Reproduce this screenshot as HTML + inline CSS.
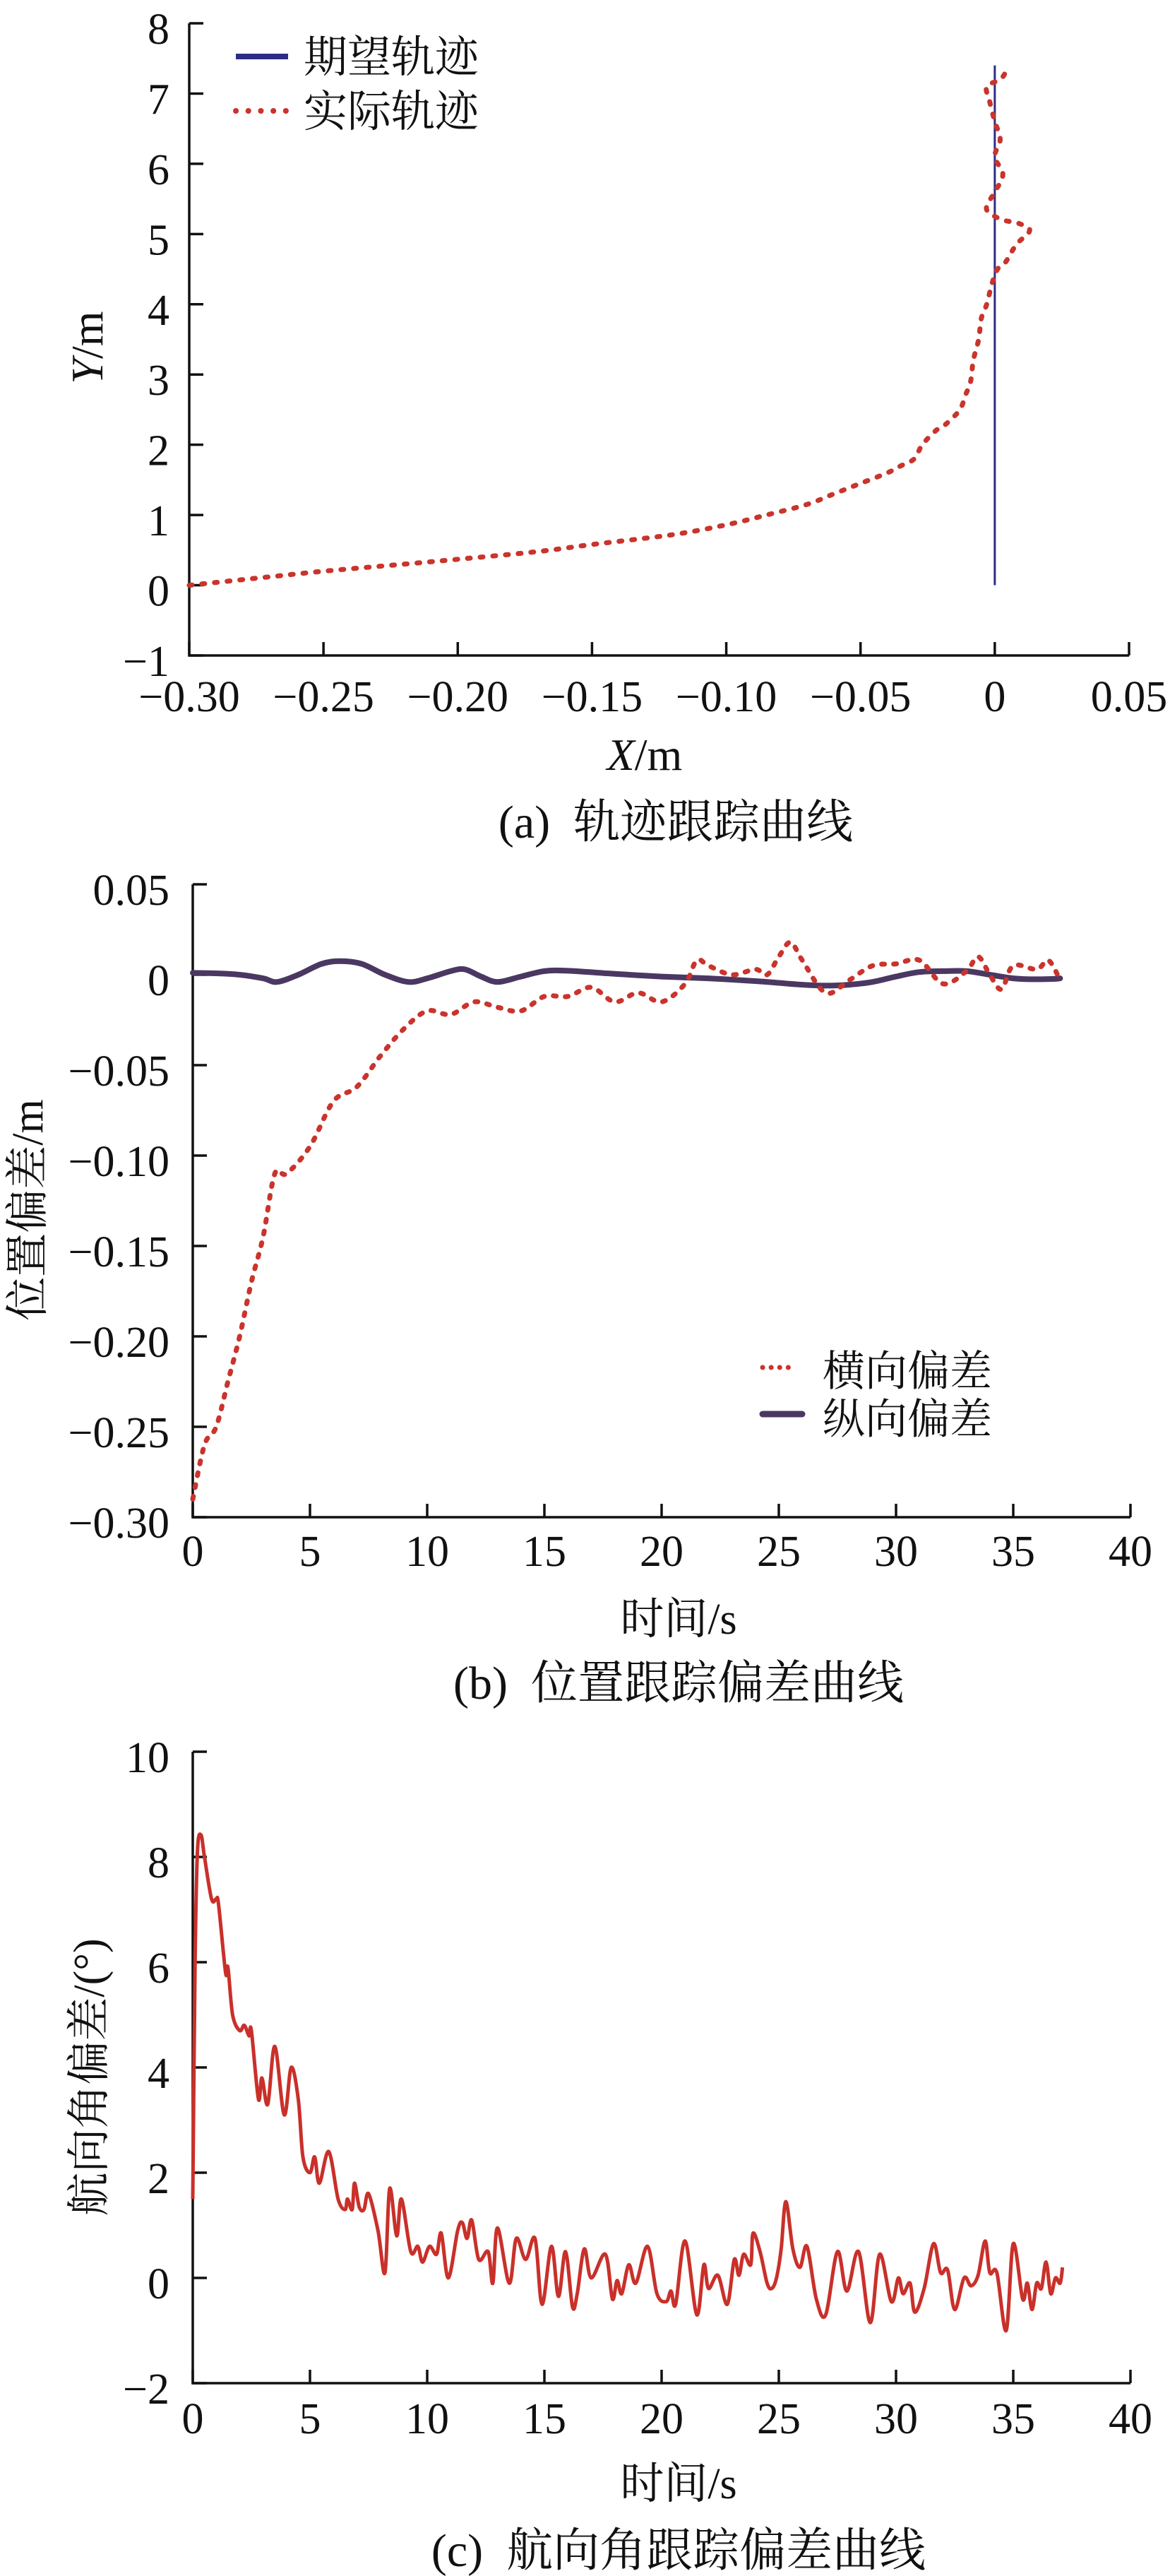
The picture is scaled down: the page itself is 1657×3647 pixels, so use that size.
<!DOCTYPE html>
<html><head><meta charset="utf-8"><style>
html,body{margin:0;padding:0;background:#fff;}
svg{display:block;}
text{font-family:"Liberation Serif","Noto Serif CJK SC",serif;fill:#111;}
</style></head><body>
<svg id="fig" width="1657" height="3647" viewBox="0 0 1657 3647" xmlns="http://www.w3.org/2000/svg"></svg>
<script>
// ---- Panel (a) data: trajectory ----
const aRefX = [0, 0];
const aRefY = [0, 7.4];
const aActX = [-0.30,-0.27,-0.25,-0.22,-0.20,-0.17,-0.15,-0.12,-0.10,-0.085,-0.07,-0.06,-0.05,-0.04,-0.035,-0.03,-0.027,-0.022,-0.018,-0.013,-0.011,-0.009,-0.008,-0.006,-0.005,-0.003,-0.001,0.001,0.004,0.008,0.013,0.009,0.003,-0.002,-0.003,0.0,0.003,0.0,0.002,0.0,-0.002,-0.003,0.002,0.004];
const aActY = [0.0,0.12,0.2,0.3,0.37,0.48,0.58,0.72,0.86,1.0,1.15,1.3,1.45,1.6,1.7,1.8,2.0,2.2,2.3,2.5,2.7,2.9,3.2,3.5,3.8,4.0,4.3,4.5,4.6,4.85,5.05,5.15,5.2,5.3,5.4,5.6,5.85,6.1,6.35,6.6,6.9,7.1,7.2,7.3];
const aXTicks = [-0.30,-0.25,-0.20,-0.15,-0.10,-0.05,0,0.05];
const aXLabels = ["−0.30","−0.25","−0.20","−0.15","−0.10","−0.05","0","0.05"];
const aYTicks = [-1,0,1,2,3,4,5,6,7,8];
const aYLabels = ["−1","0","1","2","3","4","5","6","7","8"];
// ---- Panel (b) data: position error ----
const bLatT = [0,0.5,1,1.5,2,2.5,3,3.5,4,5,6,7,8,9,10,11,12,13,14,15,16,17,18,19,20,21,21.5,22,23,24,24.5,25,25.5,26,27,28,29,30,31,32,33,33.5,34,34.5,35,36,36.5,37];
const bLatV = [-0.29,-0.26,-0.25,-0.225,-0.2,-0.17,-0.145,-0.11,-0.11,-0.095,-0.07,-0.062,-0.045,-0.03,-0.02,-0.022,-0.015,-0.018,-0.02,-0.012,-0.012,-0.007,-0.015,-0.01,-0.015,-0.005,0.008,0.005,0,0.003,0,0.01,0.018,0.008,-0.01,-0.003,0.005,0.006,0.008,-0.005,0.002,0.01,0,-0.008,0.005,0.003,0.008,-0.003];
const bLonT = [0,1,2,3,3.6,4.5,5.5,6.3,7.2,8.2,9.2,10,11,11.6,12.3,13,14,15,16,18,20,22,24,25,26,27,28,29,30,31,32,33,34,35,36,37];
const bLonV = [0.001,0.0008,0,-0.002,-0.004,0.0,0.006,0.0075,0.006,0.0,-0.004,-0.002,0.002,0.003,-0.001,-0.004,-0.001,0.002,0.0022,0.0005,-0.001,-0.002,-0.0035,-0.0045,-0.0055,-0.006,-0.0055,-0.004,-0.001,0.0015,0.002,0.002,0.0,-0.002,-0.0025,-0.002,0.0,0.001];
const bXTicks = [0,5,10,15,20,25,30,35,40];
const bXLabels = ["0","5","10","15","20","25","30","35","40"];
const bYTicks = [0.05,0,-0.05,-0.10,-0.15,-0.20,-0.25,-0.30];
const bYLabels = ["0.05","0","−0.05","−0.10","−0.15","−0.20","−0.25","−0.30"];
// ---- Panel (c) data: heading error ----
const cT = [0,0.1,0.2,0.35,0.5,0.8,1.0,1.1,1.4,1.5,1.7,2.0,2.2,2.4,2.5,2.8,2.95,3.2,3.5,3.9,4.2,4.5,4.7,5.0,5.2,5.4,5.8,6.2,6.5,6.6,6.8,6.9,7.1,7.3,7.5,7.9,8.2,8.4,8.7,8.9,9.3,9.6,9.8,10.1,10.4,10.6,10.9,11.3,11.5,11.7,11.9,12.2,12.6,12.8,13.0,13.5,13.8,14.2,14.6,14.9,15.3,15.6,15.9,16.2,16.4,16.7,17.0,17.6,17.9,18.1,18.3,18.6,18.9,19.4,19.8,20.2,20.4,20.6,21.0,21.5,21.8,22.0,22.4,22.8,23.1,23.3,23.5,23.8,23.9,24.2,24.5,24.7,24.9,25.1,25.3,25.6,25.9,26.2,26.6,27.0,27.5,27.9,28.4,28.9,29.3,29.8,30.1,30.3,30.6,30.8,31.2,31.6,31.9,32.2,32.5,32.9,33.2,33.5,33.8,34.0,34.3,34.7,35.0,35.4,35.6,35.8,36.0,36.2,36.4,36.6,36.8,37.0,37.1];
const cV = [1.5,6.0,8.1,8.42,8.0,7.2,7.2,7.1,5.8,5.9,5.0,4.7,4.8,4.6,4.7,3.4,3.8,3.3,4.4,3.1,4.0,3.4,2.3,2.0,2.3,1.8,2.4,1.5,1.3,1.5,1.3,1.8,1.35,1.3,1.6,0.9,0.1,1.7,0.8,1.5,0.5,0.6,0.3,0.6,0.45,0.85,0.0,0.9,1.05,0.75,1.1,0.35,0.5,-0.1,0.95,-0.1,0.75,0.35,0.75,-0.5,0.6,-0.35,0.5,-0.55,-0.3,0.55,0.0,0.45,-0.4,-0.05,-0.3,0.25,-0.1,0.6,-0.3,-0.45,-0.25,-0.5,0.7,-0.7,0.25,-0.2,0.05,-0.5,0.35,0.05,0.45,0.25,0.85,0.5,-0.1,-0.2,0.0,0.55,1.45,0.55,0.2,0.6,-0.4,-0.7,0.5,-0.25,0.5,-0.85,0.45,-0.45,0.0,-0.3,-0.1,-0.65,-0.2,0.65,0.1,0.15,-0.6,0.0,-0.15,0.05,0.7,0.1,0.1,-1.0,0.65,-0.4,-0.1,-0.6,-0.1,-0.2,0.3,-0.3,0.0,-0.1,0.2];
const cXTicks = [0,5,10,15,20,25,30,35,40];
const cXLabels = ["0","5","10","15","20","25","30","35","40"];
const cYTicks = [10,8,6,4,2,0,-2];
const cYLabels = ["10","8","6","4","2","0","−2"];

const NS = "http://www.w3.org/2000/svg";
const svg = document.getElementById('fig');
function mk(tag, parent){ const e=document.createElementNS(NS,tag); parent.appendChild(e); return e; }
function lin(d0,d1,p0,p1){ return v => p0 + (v-d0)/(d1-d0)*(p1-p0); }
function smoothPath(px, py){
  let d = "M"+px[0].toFixed(1)+","+py[0].toFixed(1);
  for(let i=0;i<px.length-1;i++){
    const x0=px[Math.max(i-1,0)], y0=py[Math.max(i-1,0)];
    const x1=px[i], y1=py[i], x2=px[i+1], y2=py[i+1];
    const x3=px[Math.min(i+2,px.length-1)], y3=py[Math.min(i+2,py.length-1)];
    const c1x=x1+(x2-x0)/6, c1y=y1+(y2-y0)/6, c2x=x2-(x3-x1)/6, c2y=y2-(y3-y1)/6;
    d += " C"+c1x.toFixed(1)+","+c1y.toFixed(1)+" "+c2x.toFixed(1)+","+c2y.toFixed(1)+" "+x2.toFixed(1)+","+y2.toFixed(1);
  }
  return d;
}
function axes(g, X0, X1, Ytop, Ybot, xs, xTicks, xLabels, ys, yTicks, yLabels, xLabBase, prefix){
  const ax = mk('path', g);
  
  
  ax.setAttribute('d', `M${X0},${Ytop} V${Ybot} H${X1}`);
  ax.setAttribute('fill','none'); ax.setAttribute('stroke','#111'); ax.setAttribute('stroke-width','3.5');
  xTicks.forEach((v,i)=>{
    const x = xs(v);
    const t = mk('line', g);
    
    
    t.setAttribute('x1',x); t.setAttribute('x2',x); t.setAttribute('y1',Ybot); t.setAttribute('y2',Ybot-19);
    t.setAttribute('stroke','#111'); t.setAttribute('stroke-width','3.5');
    const l = mk('text', g);
    
    
    l.setAttribute('x',x); l.setAttribute('y',xLabBase); l.setAttribute('text-anchor','middle'); l.setAttribute('font-size','62');
    l.textContent = xLabels[i];
  });
  yTicks.forEach((v,i)=>{
    const y = ys(v);
    const t = mk('line', g);
    
    
    t.setAttribute('x1',X0); t.setAttribute('x2',X0+20); t.setAttribute('y1',y); t.setAttribute('y2',y);
    t.setAttribute('stroke','#111'); t.setAttribute('stroke-width','3.5');
    const l = mk('text', g);
    
    
    l.setAttribute('x',240); l.setAttribute('y',y+29); l.setAttribute('text-anchor','end'); l.setAttribute('font-size','62');
    l.textContent = yLabels[i];
  });
}
function txt(parent, name, x, y, s, size, opts){
  const t = mk('text', parent);
  
  
  t.setAttribute('x', x); t.setAttribute('y', y); t.setAttribute('font-size', size);
  t.setAttribute('text-anchor', (opts&&opts.anchor)||'middle');
  if(opts&&opts.rot) t.setAttribute('transform', `rotate(-90 ${x} ${y})`);
  t.innerHTML = s;
  return t;
}

// ===== Panel A =====
const gA = mk('g', svg);


const axA = lin(-0.30, 0.05, 268, 1599);
const ayA = lin(8, -1, 33, 928);
axes(gA, 268, 1599, 33, 928, axA, aXTicks, aXLabels, ayA, aYTicks, aYLabels, 1007, 'a');
const refA = mk('polyline', gA);


refA.setAttribute('points', aRefX.map((v,i)=>axA(v)+","+ayA(aRefY[i])).join(' '));
refA.setAttribute('stroke','#2e2d85'); refA.setAttribute('stroke-width','3'); refA.setAttribute('fill','none');
const actA = mk('path', gA);


actA.setAttribute('d', smoothPath(aActX.map(axA), aActY.map(ayA)));
actA.setAttribute('stroke','#c9342c'); actA.setAttribute('stroke-width','7'); actA.setAttribute('fill','none');
actA.setAttribute('stroke-dasharray','4 14'); actA.setAttribute('stroke-linecap','round');
// legend a
const lgA = mk('g', gA);


const la1 = mk('line', lgA);


la1.setAttribute('x1',334); la1.setAttribute('x2',408); la1.setAttribute('y1',80); la1.setAttribute('y2',80);
la1.setAttribute('stroke','#2e2d85'); la1.setAttribute('stroke-width','8');
txt(lgA, 'legend-desired-label', 430, 102, '期望轨迹', 62, {anchor:'start'});
const la2 = mk('line', lgA);


la2.setAttribute('x1',334); la2.setAttribute('x2',408); la2.setAttribute('y1',157); la2.setAttribute('y2',157);
la2.setAttribute('stroke','#c9342c'); la2.setAttribute('stroke-width','8'); la2.setAttribute('stroke-dasharray','0.1 17.6'); la2.setAttribute('stroke-linecap','round');
txt(lgA, 'legend-actual-label', 430, 179, '实际轨迹', 62, {anchor:'start'});
txt(gA, 'y-axis-title-a', 145, 492, '<tspan font-style="italic">Y</tspan>/m', 64, {rot:true});
txt(gA, 'x-axis-title-a', 913, 1090, '<tspan font-style="italic">X</tspan>/m', 64);
txt(gA, 'caption-a', 957, 1186, '(a)&#160;&#160;轨迹跟踪曲线', 66);

// ===== Panel B =====
const gB = mk('g', svg);


const axB = lin(0, 40, 273, 1601);
const ayB = lin(0.05, -0.30, 1252, 2148);
axes(gB, 273, 1601, 1252, 2148, axB, bXTicks, bXLabels, ayB, bYTicks, bYLabels, 2217, 'b');
const lonB = mk('path', gB);


lonB.setAttribute('d', smoothPath(bLonT.map(axB), bLonV.map(ayB)));
lonB.setAttribute('stroke','#4a3862'); lonB.setAttribute('stroke-width','8'); lonB.setAttribute('fill','none'); lonB.setAttribute('stroke-linecap','round');
const latB = mk('path', gB);


latB.setAttribute('d', smoothPath(bLatT.map(axB), bLatV.map(ayB)));
latB.setAttribute('stroke','#c9342c'); latB.setAttribute('stroke-width','7'); latB.setAttribute('fill','none');
latB.setAttribute('stroke-dasharray','4 13'); latB.setAttribute('stroke-linecap','round');
const lgB = mk('g', gB);


const lb1 = mk('line', lgB);


lb1.setAttribute('x1',1080); lb1.setAttribute('x2',1128); lb1.setAttribute('y1',1936); lb1.setAttribute('y2',1936);
lb1.setAttribute('stroke','#c9342c'); lb1.setAttribute('stroke-width','7'); lb1.setAttribute('stroke-dasharray','0.1 12'); lb1.setAttribute('stroke-linecap','round');
txt(lgB, 'legend-lateral-label', 1165, 1962, '横向偏差', 60, {anchor:'start'});
const lb2 = mk('line', lgB);


lb2.setAttribute('x1',1080); lb2.setAttribute('x2',1136); lb2.setAttribute('y1',2002); lb2.setAttribute('y2',2002);
lb2.setAttribute('stroke','#4a3862'); lb2.setAttribute('stroke-width','9'); lb2.setAttribute('stroke-linecap','round');
txt(lgB, 'legend-longitudinal-label', 1165, 2030, '纵向偏差', 60, {anchor:'start'});
txt(gB, 'y-axis-title-b', 60, 1713, '位置偏差/m', 62, {rot:true});
txt(gB, 'x-axis-title-b', 961, 2313, '时间/s', 62);
txt(gB, 'caption-b', 961, 2405, '(b)&#160;&#160;位置跟踪偏差曲线', 66);

// ===== Panel C =====
const gC = mk('g', svg);


const axC = lin(0, 40, 273, 1601);
const ayC = lin(10, -2, 2480, 3374);
axes(gC, 273, 1601, 2480, 3374, axC, cXTicks, cXLabels, ayC, cYTicks, cYLabels, 3445, 'c');
const hC = mk('path', gC);


hC.setAttribute('d', smoothPath(cT.map(axC), cV.map(ayC)));
hC.setAttribute('stroke','#c9302a'); hC.setAttribute('stroke-width','5'); hC.setAttribute('fill','none'); hC.setAttribute('stroke-linejoin','round');
txt(gC, 'y-axis-title-c', 147, 2941, '航向角偏差/(°)', 62, {rot:true});
txt(gC, 'x-axis-title-c', 961, 3537, '时间/s', 62);
txt(gC, 'caption-c', 961, 3633, '(c)&#160;&#160;航向角跟踪偏差曲线', 66);
</script>
</body></html>
